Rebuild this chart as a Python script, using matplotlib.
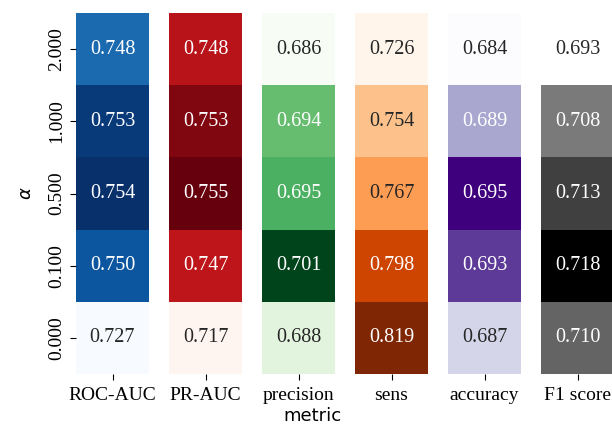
import numpy as np
import matplotlib
matplotlib.use("Agg")
import matplotlib.pyplot as plt
import seaborn as sns

# data
alphas = ["2.000", "1.000", "0.500", "0.100", "0.000"]
metrics = ["ROC-AUC", "PR-AUC", "precision", "sens", "accuracy", "F1 score"]
roc_auc = [0.748, 0.753, 0.754, 0.750, 0.727]
pr_auc = [0.748, 0.753, 0.755, 0.747, 0.717]
precision = [0.686, 0.694, 0.695, 0.701, 0.688]
sens = [0.726, 0.754, 0.767, 0.798, 0.819]
accuracy = [0.684, 0.689, 0.695, 0.693, 0.687]
f1_score = [0.693, 0.708, 0.713, 0.718, 0.710]

cmaps = ["Blues", "Reds", "Greens", "Oranges", "Purples", "Greys"]
columns = [roc_auc, pr_auc, precision, sens, accuracy, f1_score]

serif = "Liberation Serif"
fs = 14

fig = plt.figure(figsize=(6.12, 4.24), dpi=100)

# layout in pixels
W, H = 612, 424
left, col_w, step = 76, 73, 93
top, bottom = 13, 374

for i, (vals, cmap, name) in enumerate(zip(columns, cmaps, metrics)):
    x0 = left + i * step
    ax = fig.add_axes([x0 / W, (H - bottom) / H, col_w / W, (bottom - top) / H])
    arr = np.array(vals).reshape(-1, 1)
    sns.heatmap(arr, ax=ax, cmap=cmap, cbar=False, annot=True, fmt=".3f",
                annot_kws={"fontsize": 14.5, "family": serif},
                xticklabels=[name], yticklabels=alphas if i == 0 else False)
    ax.tick_params(axis="x", length=4, width=0.8, labelsize=fs, pad=5)
    for lab in ax.get_xticklabels():
        lab.set_family(serif)
        lab.set_rotation(0)
    if i == 0:
        ax.tick_params(axis="y", length=4, width=0.8, labelsize=fs)
        for lab in ax.get_yticklabels():
            lab.set_family(serif)
            lab.set_rotation(90)
            lab.set_va("center")
        ax.set_ylabel(r"$\alpha$", fontsize=13, labelpad=10)
    else:
        ax.tick_params(axis="y", left=False)

fig.text(0.51, 0.02, "metric", ha="center", va="center", fontsize=13)

fig.savefig("out.png", dpi=100)
